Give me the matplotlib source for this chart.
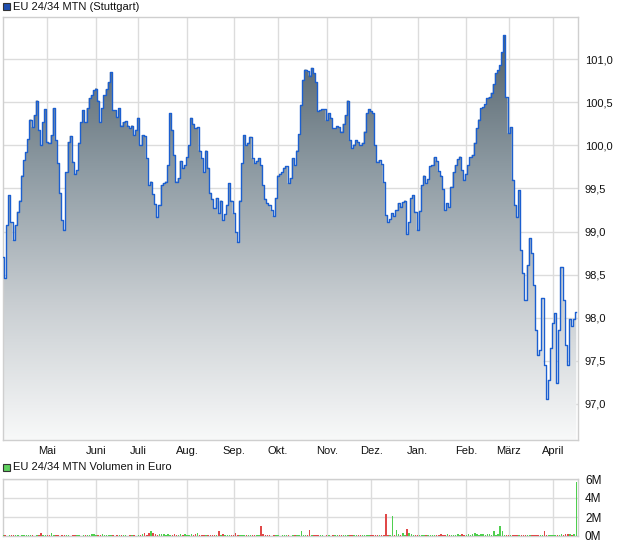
import numpy as np
import pandas as pd
import matplotlib
matplotlib.use('Agg')
import matplotlib.pyplot as plt
from matplotlib.ticker import FuncFormatter, FixedLocator
from matplotlib.patches import Rectangle
from matplotlib.colors import LinearSegmentedColormap

plt.rcParams['font.family'] = ['Liberation Sans', 'DejaVu Sans']

title_price = 'EU 24/34 MTN (Stuttgart)'
title_volume = 'EU 24/34 MTN Volumen in Euro'
start_date = '2024-04-02'
month_names = ['Jan.', 'Feb.', 'März', 'April', 'Mai', 'Juni', 'Juli',
               'Aug.', 'Sep.', 'Okt.', 'Nov.', 'Dez.']

prices = [
    98.70, 98.46, 99.07, 99.42, 99.11, 98.90, 99.07, 99.23, 99.36, 99.65,
    99.83, 99.92, 100.07, 100.30, 100.21, 100.35, 100.52, 100.18, 100.00, 100.27,
    100.42, 100.04, 100.03, 100.12, 100.43, 100.06, 99.79, 99.45, 99.13, 99.02,
    99.69, 100.04, 100.11, 99.81, 99.67, 99.71, 100.03, 100.27, 100.41, 100.27,
    100.43, 100.55, 100.58, 100.64, 100.66, 100.52, 100.27, 100.43, 100.58, 100.65,
    100.73, 100.85, 100.41, 100.41, 100.33, 100.43, 100.23, 100.27, 100.28, 100.23,
    100.20, 100.23, 100.12, 100.18, 100.32, 100.00, 100.12, 100.11, 99.85, 99.54,
    99.58, 99.43, 99.32, 99.17, 99.31, 99.54, 99.56, 99.58, 99.77, 100.37,
    100.18, 99.89, 99.58, 99.62, 99.82, 99.74, 99.77, 99.86, 100.00, 100.32,
    100.25, 100.20, 100.21, 99.94, 99.85, 99.69, 99.94, 99.74, 99.45, 99.38,
    99.27, 99.39, 99.21, 99.36, 99.13, 99.20, 99.31, 99.56, 99.36, 99.21,
    98.99, 98.88, 99.36, 99.79, 100.12, 100.00, 100.03, 100.10, 99.85, 99.79,
    99.82, 99.85, 99.77, 99.54, 99.38, 99.33, 99.31, 99.25, 99.18, 99.39,
    99.65, 99.67, 99.69, 99.74, 99.76, 99.56, 99.62, 99.85, 99.77, 99.94,
    100.13, 100.47, 100.76, 100.88, 100.86, 100.81, 100.90, 100.84, 100.73, 100.40,
    100.41, 100.42, 100.42, 100.29, 100.37, 100.32, 100.20, 100.20, 100.22, 100.21,
    100.16, 100.25, 100.35, 100.52, 100.06, 99.97, 100.01, 100.06, 100.04, 100.00,
    100.03, 100.16, 100.37, 100.42, 100.40, 100.37, 100.00, 99.81, 99.83, 99.78,
    99.57, 99.19, 99.11, 99.14, 99.21, 99.18, 99.25, 99.33, 99.29, 99.34,
    99.36, 98.97, 99.11, 99.39, 99.42, 99.23, 99.02, 99.24, 99.54, 99.65,
    99.56, 99.61, 99.76, 99.77, 99.86, 99.82, 99.70, 99.65, 99.49, 99.25,
    99.33, 99.28, 99.52, 99.69, 99.77, 99.84, 99.87, 99.71, 99.60, 99.67,
    99.77, 99.86, 99.89, 100.03, 100.20, 100.30, 100.43, 100.44, 100.48, 100.55,
    100.56, 100.61, 100.71, 100.84, 100.87, 100.93, 101.08, 101.28, 100.56, 100.14,
    100.21, 99.60, 99.31, 99.17, 99.48, 98.78, 98.52, 98.20, 98.61, 98.92,
    98.75, 98.38, 97.86, 97.57, 97.62, 98.23, 97.45, 97.06, 97.28, 97.65,
    97.94, 98.05, 97.24, 97.86, 98.59, 98.20, 97.68, 97.45, 97.99, 97.90,
    97.99, 98.06,
]

volumes_m = [
    0.10, 0.08, 0.05, 0.12, 0.06, 0.10, 0.15, 0.08, 0.05, 0.10, 0.12, 0.06, 0.08, 0.15, 0.10, 0.05, 0.08, 0.12, 0.30, 0.10,
    0.08, 0.15, 0.10, 0.30, 0.12, 0.08, 0.10, 0.05, 0.15, 0.08, 0.06, 0.10, 0.05, 0.08, 0.12, 0.10, 0.06, 0.05, 0.10, 0.08,
    0.06, 0.12, 0.20, 0.22, 0.15, 0.08, 0.10, 0.18, 0.06, 0.12, 0.08, 0.15, 0.10, 0.05, 0.12, 0.08, 0.10, 0.06, 0.12, 0.05,
    0.08, 0.10, 0.06, 0.05, 0.12, 0.08, 0.25, 0.30, 0.15, 0.35, 0.50, 0.28, 0.20, 0.15, 0.25, 0.18, 0.20, 0.12, 0.22, 0.10,
    0.15, 0.20, 0.12, 0.08, 0.18, 0.10, 0.20, 0.12, 0.15, 0.25, 0.10, 0.20, 0.30, 0.08, 0.12, 0.10, 0.06, 0.12, 0.08, 0.15,
    0.10, 0.12, 0.50, 0.15, 0.20, 0.10, 0.12, 0.15, 0.08, 0.12, 0.30, 0.10, 0.08, 0.12, 0.06, 0.10, 0.08, 0.12, 0.10, 0.08,
    0.10, 0.15, 1.03, 0.25, 0.12, 0.08, 0.10, 0.05, 0.08, 0.06, 0.10, 0.05, 0.08, 0.06, 0.10, 0.08, 0.05, 0.10, 0.08, 0.12,
    0.10, 0.50, 0.08, 0.06, 0.10, 0.62, 0.12, 0.08, 0.10, 0.06, 0.08, 0.10, 0.05, 0.08, 0.06, 0.05, 0.10, 0.08, 0.12, 0.06,
    0.10, 0.15, 0.08, 0.12, 0.10, 0.08, 0.15, 0.10, 0.12, 0.06, 0.10, 0.15, 0.08, 0.12, 0.10, 0.08, 0.06, 0.10, 0.08, 0.12,
    0.10, 2.33, 0.08, 0.10, 2.06, 0.15, 0.62, 0.20, 0.12, 0.35, 0.15, 0.72, 0.30, 0.20, 0.15, 0.10, 0.08, 0.12, 0.10, 0.08,
    0.15, 0.10, 0.12, 0.08, 0.15, 0.12, 0.10, 0.18, 0.12, 0.15, 0.20, 0.12, 0.10, 0.15, 0.12, 0.18, 0.10, 0.22, 0.15, 0.12,
    0.25, 0.15, 0.20, 0.30, 0.18, 0.12, 0.25, 0.20, 0.15, 0.22, 0.18, 0.12, 0.50, 0.15, 0.20, 1.03, 0.50, 0.15, 0.10, 0.12,
    0.15, 0.10, 0.12, 0.08, 0.10, 0.15, 0.12, 0.10, 0.08, 0.12, 0.10, 0.15, 0.12, 0.10, 0.08, 0.12, 0.50, 0.15, 0.10, 0.12,
    0.08, 0.15, 0.12, 0.10, 0.20, 0.15, 0.25, 0.18, 0.20, 0.15, 0.25, 5.66,
]

price_ticks = [97.0, 97.5, 98.0, 98.5, 99.0, 99.5, 100.0, 100.5, 101.0]
volume_ticks_m = [0, 2, 4, 6]

# trading-day axis: one slot per business day
dates = pd.bdate_range(start=start_date, periods=len(prices))
idx = np.arange(len(prices))
month_start = np.r_[False, dates.month[1:] != dates.month[:-1]]
tick_pos = idx[month_start]
tick_lab = [month_names[m - 1] for m in dates.month[month_start]]

prices_a = np.array(prices)
volumes = np.array(volumes_m) * 1e6

W, H = 620, 546
fig = plt.figure(figsize=(W / 100, H / 100), dpi=100)
fig.patch.set_facecolor('white')

grid_c = '#dcdcdc'
frame_c = '#cfcfcf'
line_c = '#1b5fd0'

# ---------- price panel ----------
ax = fig.add_axes([3 / W, 1 - 440 / H, 575 / W, 423 / H])
ylo, yhi = 96.58, 101.49
x0, x1 = idx[0], idx[-1] + 0.8

poly = ax.fill_between(idx, prices_a, ylo, step='mid', facecolor='none', edgecolor='none', zorder=1)
cmap = LinearSegmentedColormap.from_list('g', ['#f8f9f9', '#c9ced2', '#8e9ba3', '#52616a'])
grad = np.linspace(0, 1, 512).reshape(-1, 1)
im = ax.imshow(grad, extent=[x0, idx[-1], ylo, prices_a.max()], origin='lower',
               aspect='auto', cmap=cmap, zorder=1, interpolation='bilinear')
im.set_clip_path(poly.get_paths()[0], transform=ax.transData)
ax.plot(idx, prices_a, drawstyle='steps-mid', color=line_c, lw=1.0, zorder=3)
ax.set_xlim(x0, x1)
ax.set_ylim(ylo, yhi)
ax.set_aspect('auto')

ax.xaxis.set_major_locator(FixedLocator(tick_pos))
ax.set_xticklabels(tick_lab)
ax.yaxis.set_major_locator(FixedLocator(price_ticks))
ax.yaxis.set_major_formatter(FuncFormatter(lambda v, p: f'{v:.1f}'.replace('.', ',')))
ax.yaxis.tick_right()
ax.tick_params(axis='both', length=0, labelsize=8, colors='#111111')
ax.tick_params(axis='y', pad=5)
ax.tick_params(axis='x', pad=4)
ax.grid(True, color=grid_c, lw=1)
ax.set_axisbelow(True)
for s in ax.spines.values():
    s.set_color(frame_c)
    s.set_linewidth(1)

# ---------- volume panel ----------
axv = fig.add_axes([3 / W, 1 - 536 / H, 575 / W, 57 / H])
up = np.r_[True, np.diff(prices_a) >= 0]
bar_colors = np.where(up, '#4fcf4f', '#e04848')
axv.bar(idx, volumes, width=0.7, color=bar_colors, align='center', zorder=3, linewidth=0)
axv.set_xlim(x0, x1)
axv.set_ylim(0, 6e6)
axv.xaxis.set_major_locator(FixedLocator(tick_pos))
axv.set_xticklabels([''] * len(tick_pos))
axv.yaxis.set_major_locator(FixedLocator([t * 1e6 for t in volume_ticks_m]))
axv.yaxis.set_major_formatter(FuncFormatter(lambda v, p: f'{int(round(v / 1e6))}M'))
axv.yaxis.tick_right()
axv.tick_params(axis='both', length=0, labelsize=8.5, colors='#111111')
axv.tick_params(axis='y', pad=5)
axv.grid(True, color=grid_c, lw=1)
axv.set_axisbelow(True)
for s in axv.spines.values():
    s.set_color(frame_c)
    s.set_linewidth(1)

# ---------- legends ----------
fig.add_artist(Rectangle((3 / W, 1 - 10 / H), 7 / W, 7 / H, transform=fig.transFigure,
                         facecolor='#1f4fb0', edgecolor='#333333', lw=0.8))
fig.text(13 / W, 1 - 6.5 / H, title_price, fontsize=8, va='center', ha='left', color='#111111')
fig.add_artist(Rectangle((3 / W, 1 - 471 / H), 7 / W, 7 / H, transform=fig.transFigure,
                         facecolor='#5fd05f', edgecolor='#333333', lw=0.8))
fig.text(13 / W, 1 - 467.5 / H, title_volume, fontsize=8, va='center', ha='left', color='#111111')

fig.savefig('out.png', dpi=100, facecolor='white')
